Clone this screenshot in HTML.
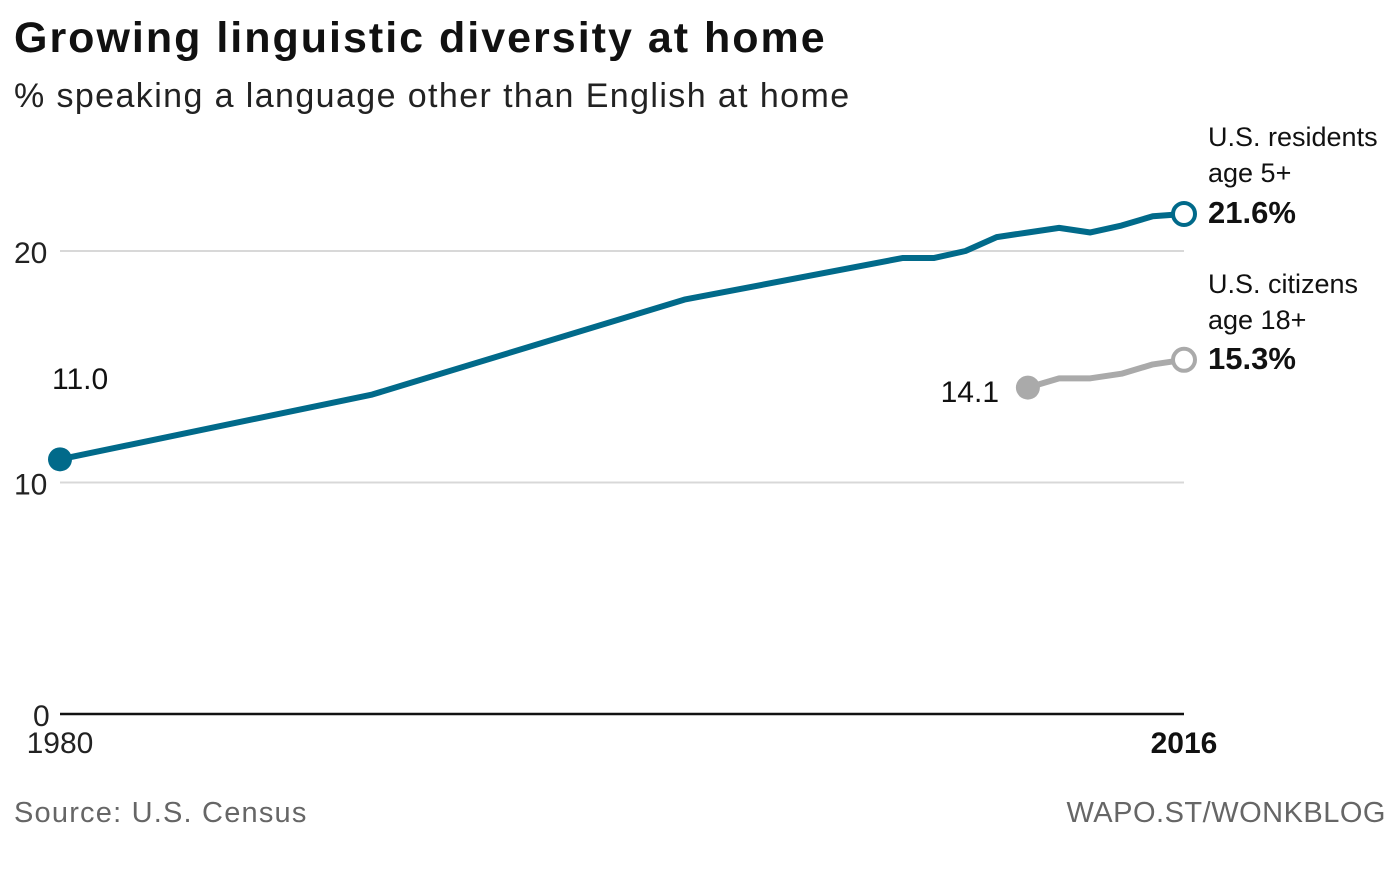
<!DOCTYPE html>
<html><head><meta charset="utf-8"><style>
body{margin:0;background:#fff;width:1400px;height:871px;overflow:hidden;font-family:"Liberation Sans",sans-serif}
svg{position:absolute;left:0;top:0}
</style></head><body>
<svg width="1400" height="871">
<text x="14" y="52" font-size="43" font-weight="bold" fill="#111" letter-spacing="2">Growing linguistic diversity at home</text>
<text x="14" y="107" font-size="34" fill="#222" letter-spacing="1.4">% speaking a language other than English at home</text>
<g id="grid"></g>
<g id="lines"></g>
<text x="14" y="822" font-size="29" fill="#666" letter-spacing="1.2">Source: U.S. Census</text>
<text x="1386" y="822" font-size="29" fill="#666" text-anchor="end" letter-spacing="0.5">WAPO.ST/WONKBLOG</text>
</svg>
<script>
const yTicks=[0,10,20];
const residentYears=[1980,1990,2000,2007,2008,2009,2010,2011,2012,2013,2014,2015,2016];
const residentValues=[11.0,13.8,17.9,19.7,19.7,20.0,20.6,20.8,21.0,20.8,21.1,21.5,21.6];
const citizenYears=[2011,2012,2013,2014,2015,2016];
const citizenValues=[14.1,14.5,14.5,14.7,15.1,15.3];
const xS=y=>60+(y-1980)*(1124/36);
const yS=v=>714-v*23.15;
const NS='http://www.w3.org/2000/svg';
function mk(t,a,p){const e=document.createElementNS(NS,t);for(const k in a)e.setAttribute(k,a[k]);p.appendChild(e);return e;}
const g=document.getElementById('grid'),L=document.getElementById('lines');
yTicks.forEach(v=>{
 const l=mk('line',{x1:60,x2:1184,y1:yS(v),y2:yS(v),stroke:v?'#d8d8d8':'#111','stroke-width':v?2:2.5},g);
 
 
 const t=mk('text',{x:v?14:33,y:yS(v)+12,'font-size':30,fill:'#222'},g);t.textContent=v;
 
 
});
const t1=mk('text',{x:60,y:753,'font-size':30,fill:'#222','text-anchor':'middle'},g);t1.textContent='1980';


const t2=mk('text',{x:1184,y:753,'font-size':30,'font-weight':'bold',fill:'#111','text-anchor':'middle'},g);t2.textContent='2016';


function series(years,vals,color,name){
 const p=mk('polyline',{points:years.map((y,i)=>xS(y)+','+yS(vals[i])).join(' '),fill:'none',stroke:color,'stroke-width':6,'stroke-linejoin':'round'},L);
 
 
 const s=mk('circle',{cx:xS(years[0]),cy:yS(vals[0]),r:12,fill:color},L);
 
 
 const n=years.length-1;
 const e=mk('circle',{cx:xS(years[n]),cy:yS(vals[n]),r:11,fill:'#fff',stroke:color,'stroke-width':4},L);
 
 
}
series(citizenYears,citizenValues,'#aaaaaa','citizens');
series(residentYears,residentValues,'#016a8a','residents');
function txt(x,y,s,sz,b,anchor,name){const t=mk('text',{x:x,y:y,'font-size':sz,'font-weight':b?'bold':'normal',fill:'#111','text-anchor':anchor||'start'},L);t.textContent=s;
 
 }
txt(52,389,residentValues[0].toFixed(1),30,false,'start','residents-start-label');
txt(999,402,citizenValues[0].toFixed(1),30,false,'end','citizens-start-label');
txt(1208,146,'U.S. residents',27,false,'start','residents-label-1');
txt(1208,182,'age 5+',27,false,'start','residents-label-2');
txt(1208,223,residentValues[residentValues.length-1].toFixed(1)+'%',31,true,'start','residents-end-value');
txt(1208,293,'U.S. citizens',27,false,'start','citizens-label-1');
txt(1208,329,'age 18+',27,false,'start','citizens-label-2');
txt(1208,369,citizenValues[citizenValues.length-1].toFixed(1)+'%',31,true,'start','citizens-end-value');
</script>
</body></html>
